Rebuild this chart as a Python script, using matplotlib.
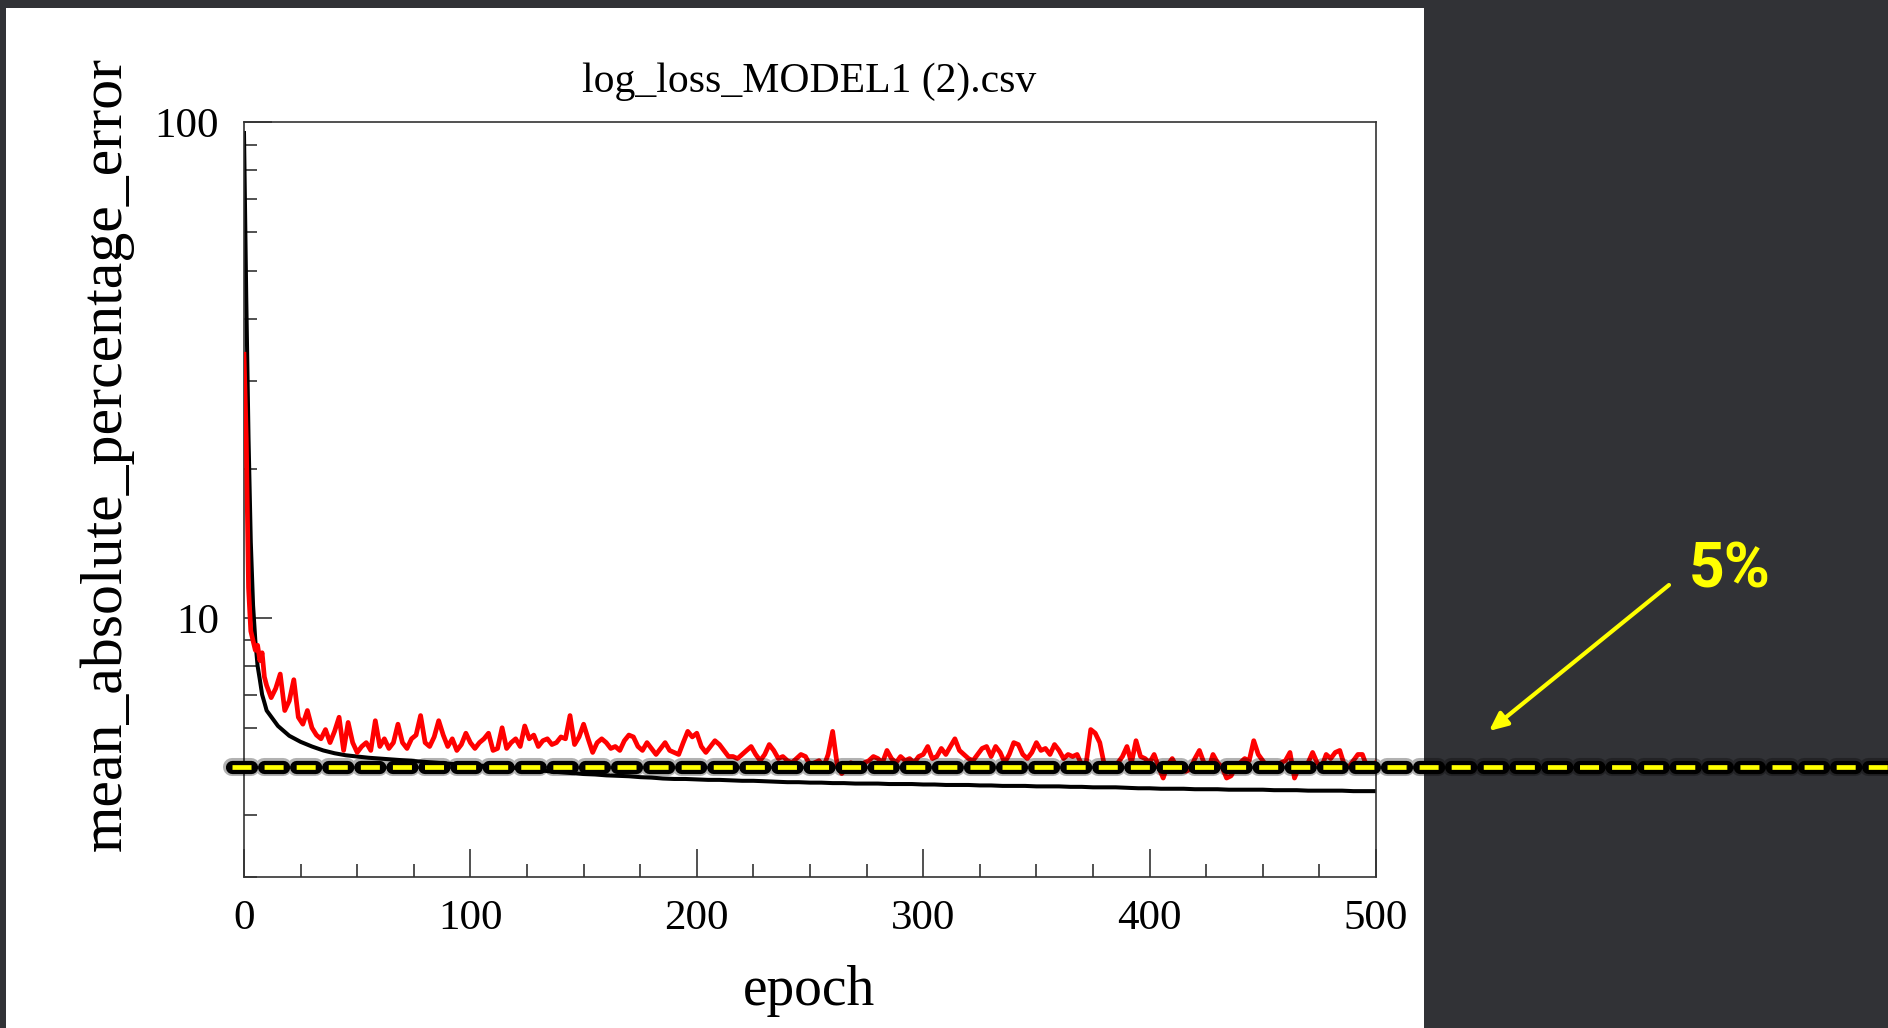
import matplotlib
matplotlib.use("Agg")
from matplotlib import pyplot as plt
from matplotlib import patheffects as pe
from matplotlib.patches import Rectangle
from matplotlib.ticker import MultipleLocator, LogLocator, NullFormatter, FixedLocator
from matplotlib.transforms import blended_transform_factory

# validation MAPE (red)
red_epochs = list(range(0, 11)) + list(range(12, 501, 2))
red_mape = [34, 23, 11.5, 9.4, 9.0, 8.6, 8.8, 8.2, 8.5, 7.6, 7.3,
            6.9, 7.2, 7.7, 6.5, 6.8, 7.5, 6.3, 6.1, 6.5, 6.0,
            5.8, 5.7, 5.95, 5.6, 5.9, 6.3, 5.4, 6.15, 5.6, 5.35,
            5.5, 5.6, 5.4, 6.2, 5.5, 5.7, 5.45, 5.6, 6.1, 5.6,
            5.45, 5.7, 5.8, 6.35, 5.6, 5.5, 5.75, 6.2, 5.8, 5.5,
            5.7, 5.4, 5.55, 5.85, 5.6, 5.45, 5.6, 5.7, 5.85, 5.4,
            5.45, 6.0, 5.45, 5.6, 5.7, 5.5, 6.05, 5.7, 5.8, 5.5,
            5.65, 5.7, 5.55, 5.6, 5.75, 5.7, 6.35, 5.55, 5.75, 6.1,
            5.7, 5.35, 5.6, 5.7, 5.6, 5.45, 5.5, 5.4, 5.65, 5.8,
            5.75, 5.5, 5.4, 5.6, 5.45, 5.3, 5.45, 5.6, 5.4, 5.35,
            5.3, 5.6, 5.9, 5.75, 5.85, 5.5, 5.35, 5.5, 5.65, 5.55,
            5.4, 5.25, 5.25, 5.2, 5.3, 5.4, 5.5, 5.3, 5.15, 5.3,
            5.55, 5.4, 5.2, 5.25, 5.15, 5.1, 5.2, 5.3, 5.25, 5.05,
            5.1, 5.15, 5.0, 5.3, 5.9, 5.05, 4.85, 4.95, 5.1, 5.05,
            5.0, 5.1, 5.15, 5.25, 5.2, 5.1, 5.4, 5.2, 5.1, 5.25,
            5.15, 5.2, 5.1, 5.25, 5.3, 5.5, 5.2, 5.25, 5.45, 5.3,
            5.5, 5.7, 5.4, 5.3, 5.2, 5.15, 5.3, 5.45, 5.5, 5.25,
            5.5, 5.35, 5.1, 5.3, 5.6, 5.55, 5.3, 5.2, 5.35, 5.6,
            5.4, 5.45, 5.3, 5.55, 5.4, 5.2, 5.3, 5.25, 5.3, 5.05,
            5.1, 5.95, 5.85, 5.6, 5.05, 4.95, 4.9, 5.1, 5.25, 5.5,
            5.1, 5.65, 5.25, 5.2, 5.1, 5.3, 5.0, 4.75, 5.05, 5.2,
            5.0, 5.05, 4.9, 4.95, 5.2, 5.4, 5.1, 4.95, 5.3, 5.1,
            5.0, 4.75, 4.8, 5.0, 5.1, 5.2, 5.15, 5.65, 5.3, 5.15,
            5.0, 4.95, 5.05, 5.1, 5.15, 5.35, 4.75, 5.0, 4.95, 5.1,
            5.35, 5.1, 5.0, 5.3, 5.2, 5.35, 5.4, 5.05, 5.0, 5.15,
            5.3, 5.3, 5.0, 4.95, 5.1]

# training MAPE (black)
black_epochs = list(range(0, 11)) + list(range(15, 501, 5))
black_mape = [95, 44, 23, 14.2, 10.6, 9.0, 8.0, 7.5, 7.0, 6.75, 6.5,
              6.05, 5.78, 5.62, 5.5, 5.4, 5.33, 5.28, 5.25, 5.22,
              5.2, 5.18, 5.16, 5.14, 5.12, 5.1, 5.08, 5.06, 5.05, 5.03,
              5.02, 5.0, 4.98, 4.96, 4.93, 4.9, 4.88, 4.86, 4.84, 4.83,
              4.81, 4.8, 4.79, 4.77, 4.76, 4.74, 4.73, 4.73, 4.72, 4.71,
              4.71, 4.7, 4.69, 4.69, 4.68, 4.67, 4.66, 4.66, 4.65, 4.65,
              4.64, 4.64, 4.63, 4.63, 4.63, 4.62, 4.62, 4.62, 4.61, 4.61,
              4.6, 4.6, 4.6, 4.59, 4.59, 4.58, 4.58, 4.58, 4.57, 4.57,
              4.57, 4.56, 4.56, 4.55, 4.55, 4.55, 4.54, 4.53, 4.53, 4.52,
              4.52, 4.52, 4.51, 4.51, 4.51, 4.5, 4.5, 4.5, 4.5, 4.49,
              4.49, 4.49, 4.48, 4.48, 4.48, 4.48, 4.47, 4.47, 4.47]

threshold = 5
threshold_label = "5%"
y_major = [10, 100]
y_major_labels = ["10", "100"]

W, H = 1888, 1028
plt.rcParams['lines.scale_dashes'] = False
serif = 'Liberation Serif'

fig = plt.figure(figsize=(W / 100, H / 100), dpi=100, facecolor='#313236')
fig.add_artist(Rectangle((6 / W, 0), (1424 - 6) / W, (H - 8) / H,
                         transform=fig.transFigure, facecolor='white',
                         edgecolor='none', zorder=0))

ax = fig.add_axes([244 / W, 1 - 877 / H, (1376 - 244) / W, (877 - 122) / H])
ax.set_yscale('log')
ax.set_xlim(0, 500)
ax.set_ylim(3, 100)

ax.plot(black_epochs, black_mape, color='black', lw=2.9, zorder=2)
ax.plot(red_epochs, red_mape, color='#ff0000', lw=3.4, zorder=3)

# yellow 5% line, running off the chart to the right edge
tr = blended_transform_factory(fig.transFigure, ax.transData)
ax.plot([232 / W, 1.0], [threshold, threshold], transform=tr, clip_on=False,
        color='#ffff00', lw=3.4, dashes=(13.7, 9.4), dash_capstyle='butt', zorder=5,
        path_effects=[pe.Stroke(linewidth=13, foreground='black', alpha=0.3, capstyle='round'),
                      pe.Stroke(linewidth=9.5, foreground='black', capstyle='round'),
                      pe.Normal()])

ax.yaxis.set_major_locator(FixedLocator(y_major))
ax.set_yticklabels(y_major_labels)
ax.yaxis.set_minor_locator(LogLocator(base=10, subs=range(2, 10)))
ax.yaxis.set_minor_formatter(NullFormatter())
ax.xaxis.set_major_locator(MultipleLocator(100))
ax.xaxis.set_minor_locator(MultipleLocator(25))

ax.tick_params(which='both', direction='in', top=False, right=False, width=1.1, color='#222222')
ax.tick_params(which='major', length=20)
ax.tick_params(which='minor', length=9.4)
ax.tick_params(axis='y', pad=18)
ax.tick_params(axis='x', pad=16)
for lab in ax.get_xticklabels() + ax.get_yticklabels():
    lab.set_fontfamily(serif)
    lab.set_fontsize(31)
for sp in ax.spines.values():
    sp.set_color('#333333')
    sp.set_linewidth(1.2)

fig.text(809 / W, 1 - 82 / H, "log_loss_MODEL1 (2).csv", family=serif, fontsize=30,
         ha='center', va='center')
fig.text(809 / W, 1 - 1005 / H, "epoch", family=serif, fontsize=40,
         ha='center', va='baseline')
fig.text(107 / W, 1 - 454 / H, "mean_absolute_percentage_error", family=serif, fontsize=43,
         rotation=90, ha='center', va='center')

fig.text(1689 / W, 1 - 587 / H, threshold_label, family='Roboto', fontweight='bold',
         fontsize=45, color='#ffff00', ha='left', va='baseline')
ax.annotate("", xy=(1489, H - 731), xycoords='figure pixels',
            xytext=(1669, H - 585), textcoords='figure pixels',
            arrowprops=dict(arrowstyle='-|>,head_length=1.1,head_width=0.5',
                            color='#ffff00', lw=3, shrinkA=0, shrinkB=0))

fig.savefig("out.png", dpi=100, facecolor=fig.get_facecolor())
